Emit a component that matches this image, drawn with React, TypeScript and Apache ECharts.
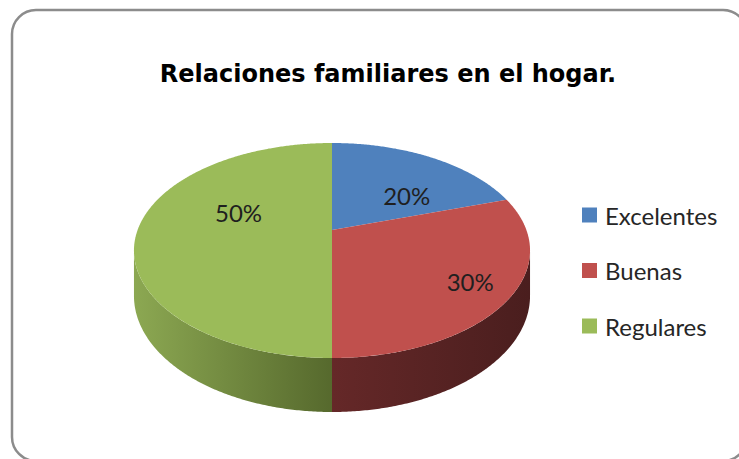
import React, { useEffect, useRef } from 'react';
import * as echarts from 'echarts';

// ---- data ----
const chartTitle = 'Relaciones familiares en el hogar.';
const categories = ['Excelentes', 'Buenas', 'Regulares'];
const values = [20, 30, 50];
const percentLabels = ['20%', '30%', '50%'];

// ---- styling ----
const TOP_COLORS = ['#4F81BD', '#C0504D', '#9BBB59'];
const SIDE_COLORS = [
  ['#34567f', '#26405e'],
  ['#652828', '#4a1e1e'],
  ['#8ca852', '#56692d'],
];
// label placement tweaks (angle shift in degrees, radial fraction)
const LABEL_TUNE = [
  { shift: 14.5, r: 0.53 },
  { shift: 0, r: 0.8 },
  { shift: 17.7, r: 0.52 },
];
const LABEL_DY = -2;
// perspective pie geometry
const GEO = { cx: 332, cy: 230, a: 194.4, b: 103.6, k: 0.1907, depth: 43.7 };
const FONT = 'Lato, "Open Sans", sans-serif';
const TITLE_FONT = '"DejaVu Sans", Lato, sans-serif';

function proj(deg: number, r: number, drop: number): number[] {
  const t = (deg * Math.PI) / 180;
  const u = r * Math.sin(t);
  const v = r * Math.cos(t);
  const w = 1 + GEO.k * v;
  return [GEO.cx + (GEO.a * u) / w, GEO.cy - (GEO.b * v) / w + drop / w];
}

function arcPoints(a0: number, a1: number, drop: number): number[][] {
  const pts: number[][] = [];
  const n = Math.max(2, Math.ceil((a1 - a0) / 0.5));
  for (let i = 0; i <= n; i++) {
    pts.push(proj(a0 + ((a1 - a0) * i) / n, 1, drop));
  }
  return pts;
}

export default function App() {
  const ref = useRef<HTMLDivElement>(null);
  useEffect(() => {
    if (!ref.current) return;
    const chart = echarts.init(ref.current, undefined, { renderer: 'svg' });
    const total = values.reduce((s, v) => s + v, 0);
    const silhouette = (Math.acos(-GEO.k) * 180) / Math.PI;

    const series = categories.map((name, idx) => ({
      type: 'custom',
      name,
      coordinateSystem: 'none',
      itemStyle: { color: TOP_COLORS[idx] },
      data: [[values[idx]]],
      renderItem: (params: any, api: any) => {
        const before = values.slice(0, idx).reduce((s, v) => s + v, 0);
        const start = (before / total) * 360;
        const end = start + (api.value(0) / total) * 360;
        const children: any[] = [];
        const lo = Math.max(start, silhouette);
        const hi = Math.min(end, 360 - silhouette);
        if (hi > lo) {
          const topEdge = arcPoints(lo, hi, 0);
          const bottomEdge = arcPoints(lo, hi, GEO.depth).reverse();
          children.push({
            type: 'polygon',
            shape: { points: topEdge.concat(bottomEdge) },
            style: {
              fill: new echarts.graphic.LinearGradient(0, 0, 1, 0, [
                { offset: 0, color: SIDE_COLORS[idx][0] },
                { offset: 1, color: SIDE_COLORS[idx][1] },
              ]),
            },
            z2: 1,
          });
        }
        const top = [proj(0, 0, 0)].concat(arcPoints(start, end, 0));
        children.push({
          type: 'polygon',
          shape: { points: top },
          style: { fill: TOP_COLORS[idx] },
          z2: 2,
        });
        const mid = (start + end) / 2 + LABEL_TUNE[idx].shift;
        const lp = proj(mid, LABEL_TUNE[idx].r, 0);
        children.push({
          type: 'text',
          x: lp[0],
          y: lp[1] + LABEL_DY,
          z2: 50,
          style: {
            text: percentLabels[idx],
            fill: '#1f1f1f',
            font: `24px ${FONT}`,
            align: 'center',
            verticalAlign: 'middle',
          },
        });
        return { type: 'group', children };
      },
    }));

    chart.setOption({
      animation: false,
      backgroundColor: 'transparent',
      graphic: [
        {
          type: 'rect',
          z: -10,
          shape: { x: 12, y: 10, width: 735, height: 451, r: 24 },
          style: { fill: '#ffffff', stroke: '#8c8c8c', lineWidth: 2.5 },
        },
        {
          type: 'text',
          x: 388,
          y: 74,
          style: {
            text: chartTitle,
            font: `bold 24px ${TITLE_FONT}`,
            fill: '#000000',
            align: 'center',
            verticalAlign: 'middle',
          },
        },
      ],
      legend: {
        data: categories,
        orient: 'vertical',
        left: 582,
        top: 203,
        padding: 0,
        icon: 'rect',
        itemWidth: 15,
        itemHeight: 15,
        itemGap: 31.5,
        textStyle: {
          fontFamily: FONT,
          fontSize: 24,
          lineHeight: 24,
          color: '#262626',
          padding: [0, 0, 0, 3],
        },
        selectedMode: false,
      },
      series,
    } as any);
    return () => chart.dispose();
  }, []);
  return (
    <div
      ref={ref}
      style={{ position: 'fixed', left: 0, top: 0, width: 739, height: 459, background: '#fff' }}
    />
  );
}
